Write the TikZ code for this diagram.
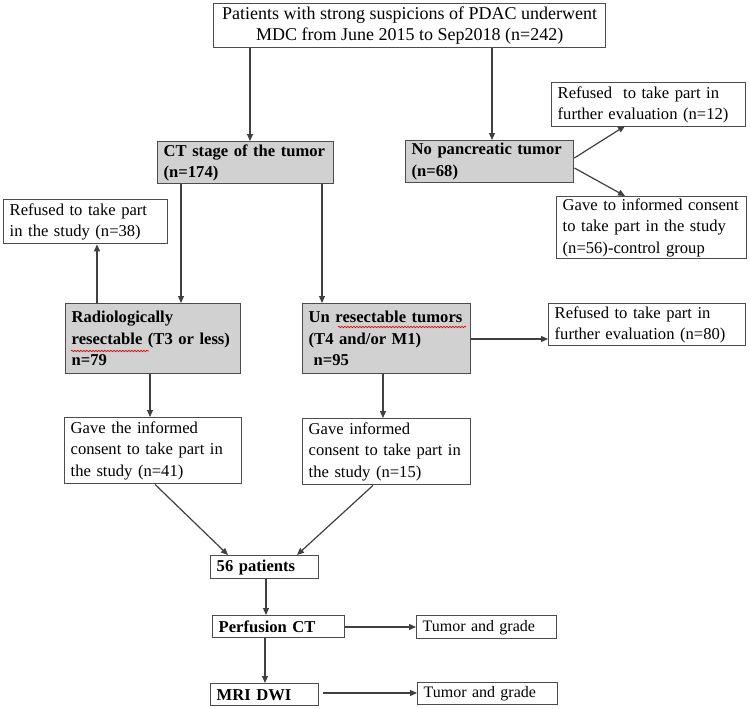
\documentclass[tikz,border=0pt]{standalone}
\usepackage{fontspec}
\setmainfont{Liberation Serif}
\usetikzlibrary{arrows.meta,calc,decorations.pathmorphing}
\begin{document}
\begin{tikzpicture}[x=1pt,y=-1pt,
  font=\fontsize{16.6}{21.5}\selectfont,
  bx/.style={draw=black!70, line width=1.4pt, anchor=north west, inner xsep=6pt, inner ysep=1pt, align=left},
  gbx/.style={bx, fill=black!18, font=\fontsize{16.6}{21.5}\selectfont\bfseries},
  arr/.style={draw=black!75, line width=1.2pt, -{Triangle[length=7pt,width=6pt]}},
  squig/.style={draw=red!85!black, line width=0.6pt, decorate, decoration={snake, amplitude=0.8pt, segment length=3pt}}
]
\path[use as bounding box, fill=white] (0,0) rectangle (750,709);
\newcommand{\bxx}[7]{% name, style, x1,y1,x2,y2, text
  \node[#2, text width={#5-#3-12}, minimum height={#6-#4}] (#1) at (#3,#4) {#7};}
\node[bx, align=center, minimum width=392, minimum height=44, inner xsep=0pt, font=\fontsize{18}{21}\selectfont] (top) at (213,3) {\mbox{Patients with strong suspicions of PDAC underwent}\\\mbox{MDC from June 2015 to Sep2018 (n=242)}};
\bxx{ct}{gbx}{157}{141}{333}{183}{CT stage of the tumor\\(n=174)}
\bxx{nopan}{gbx}{405}{140}{573}{182}{No pancreatic tumor\\(n=68)}
\bxx{refa}{bx}{551}{82}{745}{126}{Refused~ to take part in\\further evaluation (n=12)}
\bxx{gavec}{bx}{556}{196}{746}{258}{Gave to informed consent\\to take part in the study\\(n=56)-control group}
\bxx{refb}{bx}{3}{199}{167}{243}{Refused to take part\\in the study (n=38)}
\bxx{rad}{gbx}{65}{303}{240}{373}{Radiologically\\resectable (T3 or less)\\n=79}
\bxx{unres}{gbx}{302}{303}{470}{373}{Un resectable tumors\\(T4 and/or M1)\\\hspace*{5pt}n=95}
\bxx{refc}{bx}{548}{303}{745}{345}{Refused to take part in\\further evaluation (n=80)}
\bxx{gavea}{bx}{64}{417}{241}{483}{Gave the informed\\consent to take part in\\the study (n=41)}
\bxx{gaveb}{bx}{302}{418}{470}{484}{Gave informed\\consent to take part in\\the study (n=15)}
\bxx{pat}{gbx,fill=white}{210}{555}{318}{578}{56 patients}
\bxx{pct}{gbx,fill=white}{212}{615}{344}{637}{Perfusion CT}
\bxx{tga}{bx,font=\fontsize{16}{21}\selectfont}{416}{615}{556}{638}{Tumor and grade}
\bxx{mri}{gbx,fill=white}{210}{683}{318}{705}{MRI DWI}
\bxx{tgb}{bx,font=\fontsize{16}{21}\selectfont}{417}{682}{557}{704}{Tumor and grade}
% spell-check squiggles
\draw[squig] (71,351) -- (149,351);
\draw[squig] (338,327) -- (466,327);
% connectors
\draw[arr] (top.south -| 250,0) -- (ct.north -| 250,0);
\draw[arr] (top.south -| 492,0) -- (nopan.north -| 492,0);
\draw[arr] (nopan.east |- 0,158) -- (625,126) coordinate (ea);
\draw[arr] (nopan.east |- 0,168) -- (625,196) coordinate (eb);
\draw[arr] (ct.south -| 181,0) -- (rad.north -| 181,0);
\draw[arr] (ct.south -| 322,0) -- (unres.north -| 322,0);
\draw[arr] (rad.north -| 97,0) -- (refb.south -| 97,0);
\draw[arr] (unres.east |- 0,339) -- (refc.west |- 0,339);
\draw[arr] (rad.south -| 150,0) -- (gavea.north -| 150,0);
\draw[arr] (unres.south -| 383,0) -- (gaveb.north -| 383,0);
\draw[arr] (gavea.south -| 155,0) -- (pat.north -| 228,0);
\draw[arr] (gaveb.south -| 373,0) -- (pat.north -| 297,0);
\draw[arr] (pat.south -| 266,0) -- (pct.north -| 266,0);
\draw[arr] (pct.east |- 0,627) -- (tga.west |- 0,627);
\draw[arr] (pct.south -| 265,0) -- (mri.north -| 265,0);
\draw[arr] (mri.east |- 0,693) ++(4,0) coordinate (mo) -- (tgb.west |- 0,693);
\end{tikzpicture}
\end{document}
